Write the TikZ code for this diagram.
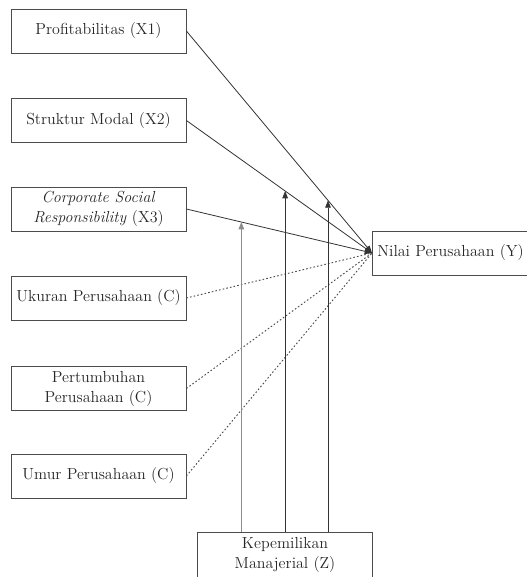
\documentclass[tikz,border=0pt]{standalone}
\usetikzlibrary{arrows.meta,calc}
\begin{document}
\begin{tikzpicture}[x=0.75pt,y=-0.75pt,
  box/.style={draw=black!70,line width=0.6pt,minimum width=131.25pt,minimum height=33pt,
    inner sep=2pt,align=center,text=black!85,font=\fontsize{12}{15}\selectfont},
  arr/.style={draw=black!80,line width=0.6pt,-{Triangle[length=5.5pt,width=4.2pt]}},
  ctrl/.style={draw=black!70,line width=0.7pt,dash pattern=on 1.2pt off 1.6pt}]
\useasboundingbox (0,0) rectangle (527,577);
\node[box](x1) at (98.5,31){Profitabilitas (X1)};
\node[box](x2) at (98.5,120.5){Struktur Modal (X2)};
\node[box](x3) at (98.5,209){\textit{Corporate Social}\\\textit{Responsibility} (X3)};
\node[box](c1) at (98.5,298){Ukuran Perusahaan (C)};
\node[box](c2) at (98.5,388.5){Pertumbuhan\\Perusahaan (C)};
\node[box](c3) at (98.5,476){Umur Perusahaan (C)};
\node[box,anchor=west,align=left,minimum width=0pt,text width=130pt,inner xsep=3.75pt](y) at (372,253){Nilai Perusahaan (Y)};
\node[box,minimum height=34.5pt](z) at (285,555){Kepemilikan\\Manajerial (Z)};
% dampak langsung
\draw[arr](x1.east)--(y.west);
\draw[arr](x2.east)--(y.west);
\draw[arr](x3.east)--(y.west);
% variabel kontrol
\draw[ctrl](c1.east)--(y.west);
\draw[ctrl](c2.east)--(y.west);
\draw[ctrl](c3.east)--(y.west);
% moderasi
\coordinate(m3) at ($(x3.east)!0.296!(y.west)$);
\coordinate(m2) at ($(x2.east)!0.532!(y.west)$);
\coordinate(m1) at ($(x1.east)!0.763!(y.west)$);
\draw[arr,draw=black!45](z.north -| m3)--(m3);
\draw[arr](z.north -| m2)--(m2);
\draw[arr](z.north -| m1)--(m1);
\end{tikzpicture}
\end{document}
